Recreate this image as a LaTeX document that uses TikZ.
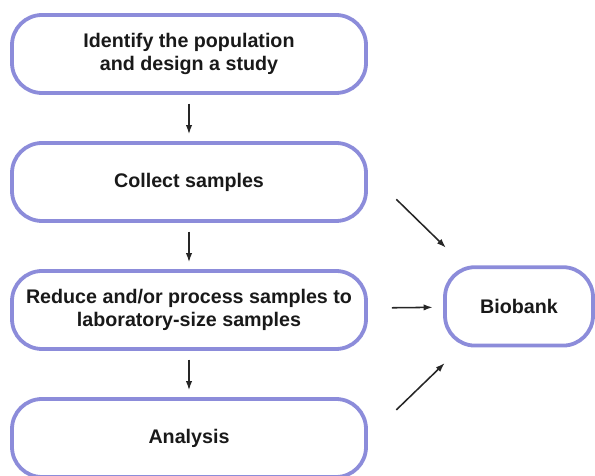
\documentclass[tikz,border=0pt]{standalone}
\usepackage{fontspec}
\setmainfont{Liberation Sans}
\usepackage{tikz}
\usetikzlibrary{arrows.meta, positioning}
\definecolor{stageblue}{RGB}{140,140,218}

\begin{document}
\begin{tikzpicture}[
    stage/.style={draw=stageblue, line width=2.7pt, rounded corners=0.75cm,
      minimum width=8.85cm, minimum height=1.95cm, inner sep=0pt, align=center,
      text=black!90, font=\fontsize{14}{16.4}\selectfont\bfseries},
    flow/.style={-{Latex[length=6.5pt,width=4.5pt]}, line width=1.1pt, black!85}
  ]
    \useasboundingbox (0,0) rectangle (14.875,11.9);

    % main line of work
    \node[stage] (identify) at (4.725,10.55) {Identify the population\\and design a study};
    \node[stage] (collect)  at (4.725,7.35)  {Collect samples};
    \node[stage] (reduce)   at (4.725,4.15)  {Reduce and/or process samples to\\laboratory-size samples};
    \node[stage] (analysis) at (4.725,0.95)  {Analysis};
    \node[stage, minimum width=3.7cm, minimum height=1.96cm] (biobank) at (12.975,4.24) {Biobank};

    \draw[flow, shorten <=0.22cm, shorten >=0.17cm] (identify) -- (collect);
    \draw[flow, shorten <=0.22cm, shorten >=0.17cm] (collect) -- (reduce);
    \draw[flow, shorten <=0.22cm, shorten >=0.17cm] (reduce) -- (analysis);

    % into the biobank
    \draw[flow] ([shift={(0.71,0.59)}]collect.south east) -- ([shift={(0.07,0.44)}]biobank.north west);
    \draw[flow, shorten <=0.6cm, shorten >=0.26cm] (reduce) -- (biobank);
    \draw[flow] ([shift={(0.71,-0.32)}]analysis.north east) -- ([shift={(0.04,-0.39)}]biobank.south west);
\end{tikzpicture}
\end{document}
